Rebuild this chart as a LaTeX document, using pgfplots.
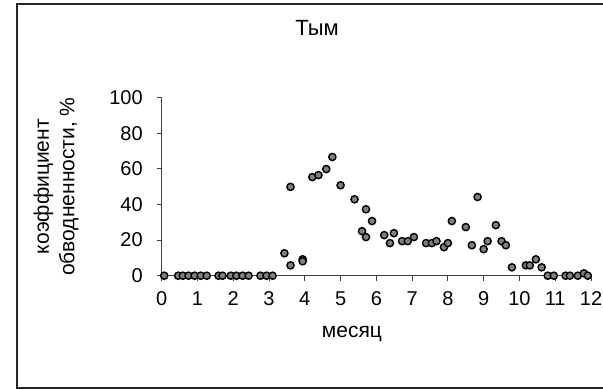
\documentclass[border=0pt]{standalone}
\usepackage{pgfplots}
\pgfplotsset{compat=1.18}
\usepackage{fontspec}
\setmainfont{Liberation Sans}
\definecolor{axgray}{RGB}{64,64,64}
\definecolor{markgray}{RGB}{128,128,128}
\begin{document}
\begin{tikzpicture}
\useasboundingbox (0pt,0pt) rectangle (301.5pt,194.5pt);
\draw[line width=0.8pt,color=black!85] (8.5pt,0.5pt) rectangle (320pt,192.5pt);
\begin{axis}[
  scale only axis,
  width=214.65pt, height=89pt,
  at={(80.85pt,56.65pt)}, anchor=south west,
  xmin=0, xmax=12, ymin=0, ymax=100,
  axis x line=bottom, axis y line=left,
  axis line style={-, color=axgray, line width=0.5pt},
  xtick={0,1,...,12}, ytick={0,20,...,100},
  tick align=outside, major tick length=2.5pt,
  tick style={color=axgray, line width=0.5pt},
  tick label style={font=\fontsize{10}{12}\selectfont},
  /pgf/number format/assume math mode=true,
  xticklabel style={yshift=-2pt},
  yticklabel style={xshift=-3.5pt},
  clip=false,
  title={Тым},
  title style={at={(axis description cs:0.362,1.325)}, anchor=center, font=\fontsize{11}{13}\selectfont},
  xlabel={месяц},
  xlabel style={at={(axis description cs:0.443,-0.33)}, anchor=center, font=\fontsize{10.5}{12.5}\selectfont},
  ylabel={коэффициент\\обводненности, \%},
  ylabel style={at={(axis description cs:-0.246,0.5)}, anchor=center, align=center, font=\fontsize{10.5}{12.75}\selectfont},
]
\addplot[only marks, mark=*, mark size=1.8pt,
  mark options={fill=markgray, draw=black, line width=0.7pt}]
coordinates {
(0.07,0) (0.46,0) (0.59,0) (0.75,0) (0.92,0) (1.09,0) (1.26,0)
(1.59,0) (1.70,0) (1.93,0) (2.09,0) (2.26,0) (2.43,0)
(2.76,0) (2.93,0) (3.10,0)
(3.43,12.6) (3.60,49.9) (3.60,5.8) (3.94,9.2) (3.94,8.1)
(4.21,55.4) (4.38,56.5) (4.60,59.9) (4.77,66.7) (5.00,50.8)
(5.39,42.9) (5.60,25.0) (5.71,37.3) (5.71,21.7) (5.88,30.7)
(6.22,22.8) (6.38,18.3) (6.49,23.9) (6.72,19.4) (6.88,19.4)
(7.05,21.7) (7.39,18.3) (7.55,18.3) (7.68,19.4) (7.89,16.0)
(8.00,18.3) (8.11,30.7) (8.50,27.3) (8.67,17.1) (8.83,44.2)
(9.00,14.9) (9.11,19.4) (9.34,28.4) (9.50,19.4) (9.62,17.1)
(9.79,4.7) (10.18,5.8) (10.29,5.8) (10.46,9.2) (10.62,4.7)
(10.79,0) (10.96,0) (11.29,0) (11.41,0) (11.63,0) (11.80,1.3) (11.91,0)
};
\end{axis}
\end{tikzpicture}
\end{document}
